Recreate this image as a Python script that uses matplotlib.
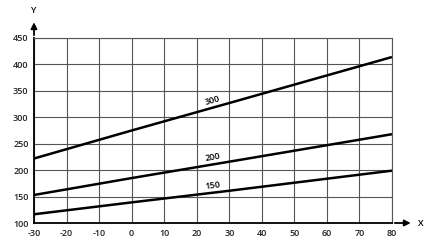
import numpy as np
import matplotlib.pyplot as plt

# curves
x = [-30, 0, 30, 80]
y300 = [222, 275, 327, 414]
y200 = [153, 185, 216, 268]
y150 = [116.5, 139, 161, 199]
labels = ["300", "200", "150"]

xticks = list(range(-30, 81, 10))
yticks = list(range(100, 451, 50))

plt.rcParams['font.family'] = ['Open Sans', 'DejaVu Sans']
plt.rcParams['axes.unicode_minus'] = False

fig = plt.figure(figsize=(4.32, 2.49), dpi=100)
ax = fig.add_axes([34/432, 1-223/249, 358/432, 185/249])

for ys in (y300, y200, y150):
    ax.plot(x, ys, color='black', lw=1.8, solid_capstyle='butt')

ax.set_xlim(-30, 80)
ax.set_ylim(100, 450)
ax.set_xticks(xticks)
ax.set_yticks(yticks)
ax.grid(True, color='#555555', lw=0.8)
ax.tick_params(length=0, labelsize=6.5, pad=4)
for lab in ax.get_xticklabels() + ax.get_yticklabels():
    lab.set_fontweight('semibold')
    lab.set_color('#222222')

for s in ('top', 'right'):
    ax.spines[s].set_color('#555555')
    ax.spines[s].set_linewidth(0.8)
for s in ('left', 'bottom'):
    ax.spines[s].set_color('black')
    ax.spines[s].set_linewidth(1.3)

# axis arrows
ax.annotate('', xy=(0, 1.10), xytext=(0, 1.0), xycoords='axes fraction',
            arrowprops=dict(arrowstyle='-|>', color='black', lw=1.3, mutation_scale=9))
ax.annotate('', xy=(1.06, 0), xytext=(1.0, 0), xycoords='axes fraction',
            arrowprops=dict(arrowstyle='-|>', color='black', lw=1.3, mutation_scale=9))
ax.text(0, 1.15, 'Y', transform=ax.transAxes, ha='center', va='center', fontsize=6.5,
        fontweight='semibold')
ax.text(1.08, 0, 'X', transform=ax.transAxes, ha='center', va='center', fontsize=6.5,
        fontweight='semibold')

# curve labels
ax.text(24.7, 331, labels[0], rotation=15.8, ha='center', va='center', fontsize=6.5,
        fontweight='semibold')
ax.text(25, 225, labels[1], rotation=9.6, ha='center', va='center', fontsize=6.5,
        fontweight='semibold')
ax.text(25, 170, labels[2], rotation=6.8, ha='center', va='center', fontsize=6.5,
        fontweight='semibold')

fig.savefig('out.png', dpi=100)
